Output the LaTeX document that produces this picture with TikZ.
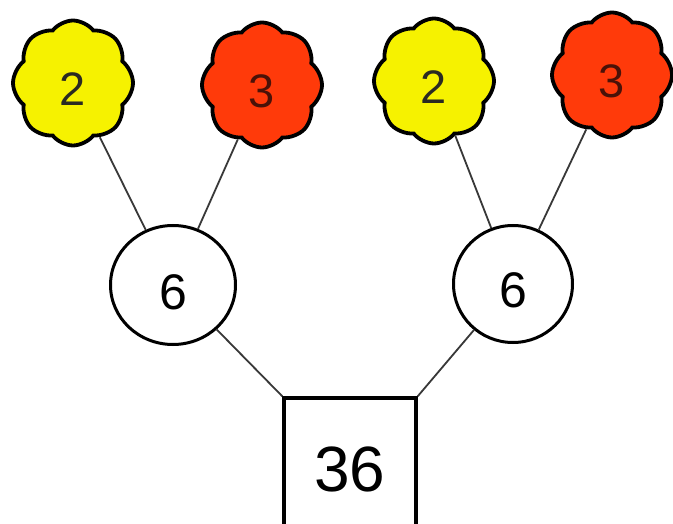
\documentclass[tikz,border=0pt]{standalone}
\usepackage{fontspec}
\setmainfont{Liberation Sans}
\usetikzlibrary{shapes.symbols,shapes.geometric}
\definecolor{flyellow}{HTML}{F6F200}
\definecolor{flred}{HTML}{FF3A0A}
\definecolor{txtdark}{HTML}{2A2A22}
\definecolor{txtred}{HTML}{4A1208}
\definecolor{linegrey}{HTML}{383838}
\tikzset{
  flower/.style={cloud, cloud puffs=8, cloud puff arc=105, aspect=1,
    draw=black, line width=3.8pt, inner sep=0pt, text height=46pt, text depth=0pt,
    minimum width=120pt, minimum height=125pt, font=\fontsize{47}{47}\selectfont},
  yflower/.style={flower, fill=flyellow, text=txtdark},
  rflower/.style={flower, fill=flred, text=txtred},
  numcirc/.style={ellipse, draw=black, line width=3pt, inner sep=0pt,
    text height=48pt, text depth=0pt, font=\fontsize{50}{50}\selectfont},
  numsq/.style={rectangle, draw=black, line width=3.5pt, inner sep=0pt,
    text height=54pt, text depth=0pt,
    minimum width=132pt, minimum height=132pt, font=\fontsize{64}{64}\selectfont},
  conn/.style={draw=linegrey, line width=1.8pt}
}
\begin{document}
\begin{tikzpicture}[x=1pt,y=-1pt]
\useasboundingbox (0,0) rectangle (673,524);
\clip (0,0) rectangle (673,524);
\fill[white] (0,0) rectangle (673,524);
\node[yflower] (f1) at (73,83) {2};
\node[rflower, shape border rotate=10] (f2) at (262,85) {3};
\node[yflower, shape border rotate=5] (f3) at (434,81) {2};
\node[rflower, shape border rotate=15] (f4) at (612,75) {3};
\node[numcirc, minimum width=125pt, minimum height=119pt] (c1) at (173,285) {6};
\node[numcirc, minimum width=119pt, minimum height=117pt] (c2) at (513,284) {6};
\node[numsq] (sq) at (350,464) {36};
\draw[conn] (f1) -- (c1);
\draw[conn] (f2) -- (c1);
\draw[conn] (f3) -- (c2);
\draw[conn] (f4) -- (c2);
\draw[conn] (c1) -- (sq.north west);
\draw[conn] (c2) -- (sq.north east);
\end{tikzpicture}
\end{document}
